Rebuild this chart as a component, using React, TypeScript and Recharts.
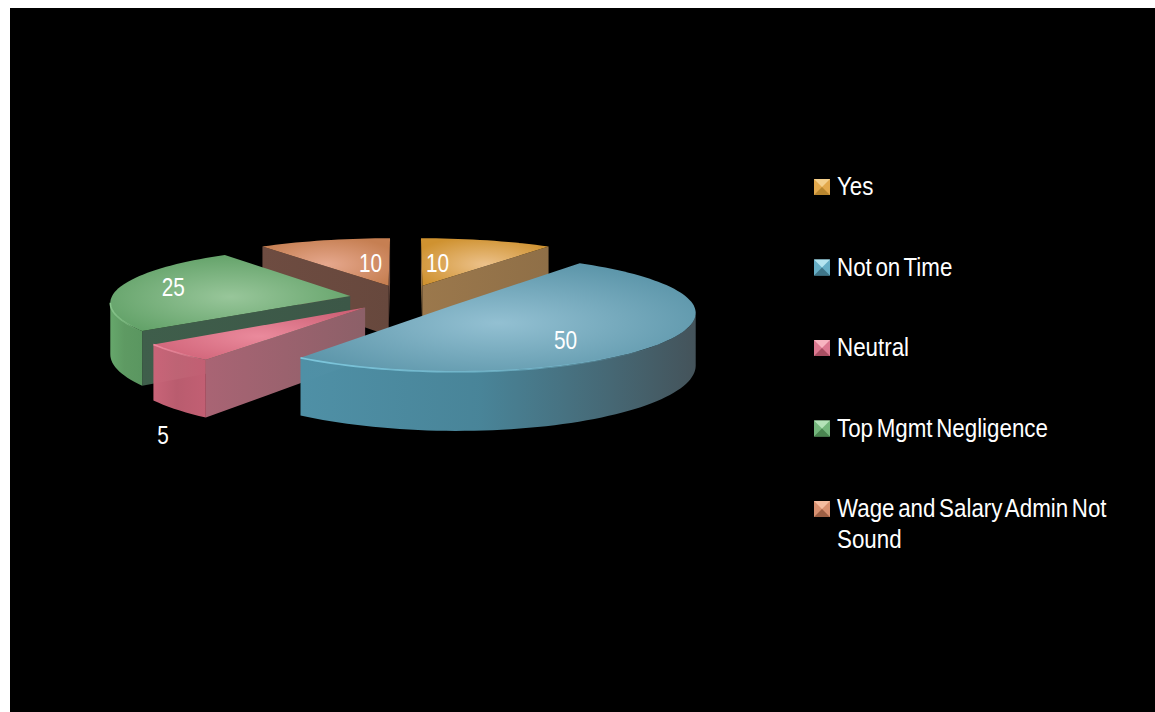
import { Legend, Pie, PieChart } from "recharts";

const categories = ["Yes", "Not on Time", "Neutral", "Top Mgmt Negligence", "Wage and Salary Admin Not Sound"];
const values = [10, 50, 5, 25, 10];
const legendLines = [["Yes"], ["Not on Time"], ["Neutral"], ["Top Mgmt Negligence"], ["Wage and Salary Admin Not", "Sound"]];
// back to front, so nearer slices cover the ones behind them
const paintOrder = [0, 4, 3, 2, 1];

const data = categories.map((name, i) => ({ name, value: values[i] }));

const WIDTH = 1145;
const HEIGHT = 704;
const CX = 395.5;
const CY = 290;
const RADIUS = 239;
const EXPLODE = 0.235;
const PERSPECTIVE_X = 0.1;
const PERSPECTIVE_Y = 0.12;
const FLATTEN = 56;
const DEPTH = 51;

interface SliceStyle {
  id: string;
  top: [string, string];
  wall: [string, string];
  cut: [string, string];
  rim: string;
  label: [number, number];
  swatch: [string, string, string];
}

const styles: SliceStyle[] = [
  { id: "yes", top: ["#ecc18a", "#cf9230"], wall: ["#c08a3a", "#a87a35"], cut: ["#9b784c", "#8f6f47"], rim: "#e8b458", label: [15, -23], swatch: ["#f4cf8c", "#e2a84c", "#b8862f"] },
  { id: "time", top: ["#93c0d2", "#5a94a8"], wall: ["#4f90a6", "#44535a"], cut: ["#4f8da3", "#4f8da3"], rim: "#7cc6dc", label: [114, 34], swatch: ["#b4e4f0", "#66aec6", "#3f7588"] },
  { id: "neutral", top: ["#ea8a9c", "#cf6277"], wall: ["#c96478", "#c25f73"], cut: ["#a96474", "#8c6068"], rim: "#ee8a9e", label: [-202, 128], swatch: ["#f8b4c0", "#dc7890", "#a84f62"] },
  { id: "top", top: ["#98c69a", "#60a066"], wall: ["#66a76b", "#5a9660"], cut: ["#3f5e4b", "#3c5747"], rim: "#86c48a", label: [-177, -9], swatch: ["#b4e2b8", "#74b67c", "#4a8450"] },
  { id: "wage", top: ["#e6a88e", "#c67f52"], wall: ["#b06a48", "#9f6044"], cut: ["#6e4c41", "#67483d"], rim: "#dd9a78", label: [-18, -23], swatch: ["#f4bca0", "#d89070", "#9c5f44"] },
];

const toRad = (deg: number) => (deg * Math.PI) / 180;

// ground-plane position to screen, h = 0 on the top face and 1 on the base
function project(u: number, v: number, h: number) {
  return [
    CX + (u * RADIUS) / (1 - PERSPECTIVE_X * v),
    CY + (FLATTEN * v + h * DEPTH) / (1 - PERSPECTIVE_Y * v),
  ];
}

function sliceGeometry(startAngle: number, endAngle: number) {
  // clockwise degrees from twelve o'clock
  const from = 90 - startAngle;
  const to = 90 - endAngle;
  const mid = toRad((from + to) / 2);
  const ox = EXPLODE * Math.sin(mid);
  const oy = -EXPLODE * Math.cos(mid);
  const rimPoint = (deg: number, h: number) => project(ox + Math.sin(toRad(deg)), oy - Math.cos(toRad(deg)), h);
  const apex = (h: number) => project(ox, oy, h);
  const arc = (a: number, b: number, h: number) => {
    const pts = [];
    const n = Math.max(2, Math.ceil(Math.abs(b - a) / 2));
    for (let i = 0; i <= n; i++) pts.push(rimPoint(a + ((b - a) * i) / n, h));
    return pts;
  };
  // angle where the rim reaches its extreme x, near a given side
  const outlineTurn = (near: number, sign: number) => {
    let best = near;
    for (let deg = near - 30; deg <= near + 30; deg += 0.5) {
      if (sign * rimPoint(deg, 0)[0] > sign * rimPoint(best, 0)[0]) best = deg;
    }
    return best;
  };
  return { from, to, rimPoint, apex, arc, outlineTurn };
}

const toPath = (pts: number[][], close = true) =>
  pts.map((p, i) => `${i ? "L" : "M"}${p[0].toFixed(2)} ${p[1].toFixed(2)}`).join("") + (close ? "Z" : "");

function Slice({ startAngle, endAngle, style }: { startAngle: number; endAngle: number; style: SliceStyle }) {
  const { from, to, rimPoint, apex, arc, outlineTurn } = sliceGeometry(startAngle, endAngle);
  const A = apex(0);
  const M = rimPoint((from + to) / 2, 0);

  // a cut face shows when the top of the slice lies above it on screen
  const cutVisible = (deg: number) => {
    const P = rimPoint(deg, 0);
    const ex = P[0] - A[0];
    const ey = P[1] - A[1];
    const side = ex * (M[1] - A[1]) - ey * (M[0] - A[0]);
    return side * ex < -1e-6;
  };
  const cutFace = (deg: number) => toPath([A, rimPoint(deg, 0), rimPoint(deg, 1), apex(1)]);

  // the outer wall only runs between the two points where the outline turns
  const wallFrom = Math.max(from, outlineTurn(90, 1));
  const wallTo = Math.min(to, outlineTurn(270, -1));
  const hasWall = wallTo > wallFrom;

  return (
    <g>
      {[from, to].filter(cutVisible).map((deg) => (
        <path key={deg} d={cutFace(deg)} fill={`url(#cut-${style.id})`} />
      ))}
      {hasWall && (
        <path
          d={toPath([...arc(wallFrom, wallTo, 0), ...arc(wallTo, wallFrom, 1)])}
          fill={`url(#wall-${style.id})`}
        />
      )}
      <path d={toPath([A, ...arc(from, to, 0)])} fill={`url(#top-${style.id})`} />
      {hasWall && (
        <path d={toPath(arc(wallFrom, wallTo, 0), false)} fill="none" stroke={`url(#rim-${style.id})`} strokeWidth={1.6} />
      )}
    </g>
  );
}

function ValueLabel(props: any, index: number) {
  const { startAngle, endAngle, value } = props;
  const { apex } = sliceGeometry(startAngle, endAngle);
  const A = apex(0);
  const [dx, dy] = styles[index].label;
  return (
    <text
      key={index}
      transform={`translate(${A[0] + dx} ${A[1] + dy + 9}) scale(0.8 1)`}
      textAnchor="middle"
      fill="#fff"
      fontFamily="'Liberation Sans', Arial, sans-serif"
      fontSize={26}
    >
      {value}
    </text>
  );
}

function PyramidSwatch({ x, y, colors }: { x: number; y: number; colors: [string, string, string] }) {
  const s = 16;
  const c = [x + s / 2, y + s / 2].join(" ");
  return (
    <g>
      <rect x={x} y={y} width={s} height={s} fill={colors[1]} />
      <path d={`M${x} ${y}L${x + s} ${y}L${c}Z`} fill={colors[0]} />
      <path d={`M${x} ${y + s}L${x + s} ${y + s}L${c}Z`} fill={colors[2]} />
    </g>
  );
}

function LegendList() {
  return (
    <svg width={WIDTH} height={HEIGHT} style={{ display: "block" }}>
      {legendLines.map((lines, i) => (
        <g key={categories[i]}>
          <PyramidSwatch x={804} y={171 + i * 80.5} colors={styles[i].swatch} />
          {lines.map((line, j) => (
            <text
              key={line}
              transform={`translate(827 ${187 + i * 80.5 + j * 31}) scale(0.86 1)`}
              fill="#fff"
              fontFamily="'Liberation Sans', Arial, sans-serif"
              fontSize={26}
              wordSpacing={-3}
            >
              {line}
            </text>
          ))}
        </g>
      ))}
    </svg>
  );
}

export default function App() {
  return (
    <div style={{ position: "fixed", left: 10, top: 8, width: WIDTH, height: HEIGHT, background: "#000", overflow: "hidden" }}>
      <PieChart width={WIDTH} height={HEIGHT} margin={{ top: 0, right: 0, bottom: 0, left: 0 }}>
        <defs>
          {styles.map((s) => (
            <g key={s.id}>
              <radialGradient id={`top-${s.id}`} cx="0.5" cy="0.55" r="0.6">
                <stop offset="0%" stopColor={s.top[0]} />
                <stop offset="100%" stopColor={s.top[1]} />
              </radialGradient>
              <linearGradient id={`wall-${s.id}`} x1="0" y1="0" x2="1" y2="0">
                <stop offset="0%" stopColor={s.wall[0]} />
                <stop offset="45%" stopColor={s.wall[0]} stopOpacity={0.92} />
                <stop offset="100%" stopColor={s.wall[1]} />
              </linearGradient>
              <linearGradient id={`cut-${s.id}`} x1="0" y1="0" x2="1" y2="0">
                <stop offset="0%" stopColor={s.cut[0]} />
                <stop offset="100%" stopColor={s.cut[1]} />
              </linearGradient>
              <linearGradient id={`rim-${s.id}`} x1="0" y1="0" x2="1" y2="0">
                <stop offset="0%" stopColor={s.rim} />
                <stop offset="50%" stopColor={s.rim} stopOpacity={0.7} />
                <stop offset="90%" stopColor={s.rim} stopOpacity={0} />
              </linearGradient>
            </g>
          ))}
        </defs>
        {paintOrder.map((layer) => (
          <Pie
            key={layer}
            data={data}
            dataKey="value"
            nameKey="name"
            cx={CX}
            cy={CY}
            outerRadius={RADIUS}
            startAngle={90}
            endAngle={-270}
            stroke="none"
            isAnimationActive={false}
            labelLine={false}
            label={(props: any) => (props.index === layer ? ValueLabel(props, layer) : <g key={props.index} />)}
            shape={(props: any) =>
              props.name === categories[layer] ? (
                <Slice startAngle={props.startAngle} endAngle={props.endAngle} style={styles[layer]} />
              ) : (
                <g />
              )
            }
          />
        ))}
        <Legend
          content={() => <LegendList />}
          wrapperStyle={{ position: "absolute", left: 0, top: 0, width: WIDTH, height: HEIGHT, pointerEvents: "none" }}
        />
      </PieChart>
    </div>
  );
}
